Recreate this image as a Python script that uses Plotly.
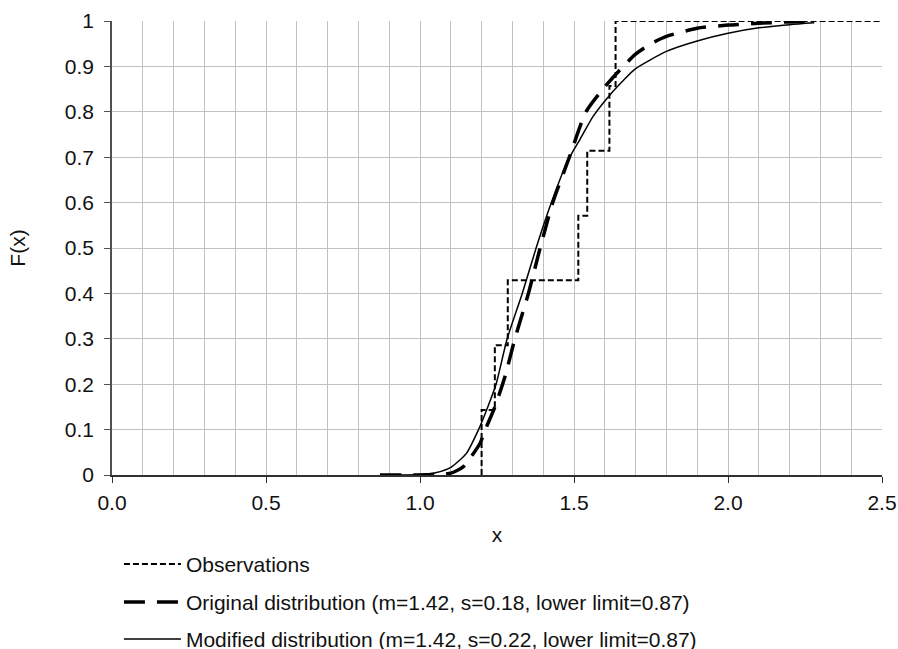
import plotly.graph_objects as go

# Observations (empirical CDF)
obs_x = [1.200, 1.243, 1.285, 1.514, 1.543, 1.615, 1.635]
obs_f = [0.143, 0.286, 0.429, 0.571, 0.714, 0.857, 1.000]
x_max = 2.5

# Original distribution (m=1.42, s=0.18, lower limit=0.87)
orig_x = [0.87, 1.00, 1.05, 1.10, 1.14, 1.195, 1.216, 1.243, 1.276, 1.308, 1.352, 1.39,
          1.431, 1.485, 1.539, 1.60, 1.65, 1.70, 1.75, 1.80, 1.90, 2.00, 2.10, 2.20, 2.28]
orig_f = [0.0, 0.0, 0.001, 0.004, 0.018, 0.07, 0.106, 0.15, 0.217, 0.30, 0.40, 0.50,
          0.60, 0.70, 0.80, 0.855, 0.893, 0.927, 0.950, 0.966, 0.984, 0.991, 0.995, 0.998, 0.999]

# Modified distribution (m=1.42, s=0.22, lower limit=0.87)
mod_x = [0.87, 0.95, 1.00, 1.05, 1.10, 1.15, 1.19, 1.22, 1.247, 1.283, 1.332, 1.377,
         1.424, 1.478, 1.52, 1.562, 1.62, 1.66, 1.70, 1.80, 1.90, 2.00, 2.10, 2.20, 2.28]
mod_f = [0.0, 0.0, 0.001, 0.005, 0.017, 0.047, 0.10, 0.15, 0.20, 0.30, 0.40, 0.50,
         0.595, 0.69, 0.74, 0.79, 0.84, 0.869, 0.895, 0.933, 0.956, 0.973, 0.985, 0.992, 0.996]

# build step path from observations
step_x = [obs_x[0]] + obs_x + [x_max]
step_y = [0.0] + obs_f + [obs_f[-1]]

FONT = "Liberation Sans, Arial, sans-serif"
LEG_FONT = 21

fig = go.Figure()
fig.add_trace(go.Scatter(
    x=step_x, y=step_y, mode="lines", line_shape="hv",
    line=dict(color="black", width=2, dash="6px,3px"),
    name="Observations", legend="legend"))
fig.add_trace(go.Scatter(
    x=orig_x, y=orig_f, mode="lines", line_shape="spline",
    line=dict(color="black", width=3.5, dash="21px,12px", smoothing=0.6),
    name="Original distribution (m=1.42, s=0.18, lower limit=0.87)", legend="legend2"))
fig.add_trace(go.Scatter(
    x=mod_x, y=mod_f, mode="lines", line_shape="spline",
    line=dict(color="black", width=1.5, smoothing=0.6),
    name="Modified distribution (m=1.42, s=0.22, lower limit=0.87)", legend="legend3"))

leg_common = dict(xanchor="left", yanchor="top", orientation="v",
                  font=dict(size=LEG_FONT, family=FONT, color="#111"),
                  itemwidth=57, bgcolor="rgba(0,0,0,0)", x=0.009)

fig.update_layout(
    width=898, height=649,
    margin=dict(l=112, r=16, t=21, b=174, autoexpand=False),
    paper_bgcolor="white", plot_bgcolor="white",
    font=dict(family=FONT, size=21, color="#111"),
    showlegend=True,
    legend=dict(y=-0.1515, **leg_common),
    legend2=dict(y=-0.2352, **leg_common),
    legend3=dict(y=-0.3167, **leg_common),
    xaxis=dict(
        range=[0, 2.5], dtick=0.5, tick0=0, tickformat=".1f",
        showgrid=True, gridcolor="#c0c0c0", gridwidth=1,
        minor=dict(dtick=0.1, showgrid=True, gridcolor="#c0c0c0", gridwidth=1),
        showline=True, linecolor="#303030", linewidth=1.5,
        ticks="outside", ticklen=6, tickcolor="#303030",
        ticklabelstandoff=2,
        zeroline=False,
        title=dict(text="x", standoff=14, font=dict(size=21)),
    ),
    yaxis=dict(
        range=[0, 1], dtick=0.1, tick0=0,
        showgrid=True, gridcolor="#c0c0c0", gridwidth=1,
        showline=True, linecolor="#505050", linewidth=1.5,
        ticks="outside", ticklen=6, tickcolor="#505050",
        ticklabelstandoff=6,
        zeroline=False,
        title=dict(text="F(x)", standoff=33, font=dict(size=21)),
    ),
)

# remove the browser's default 8px page margin so the figure fills the window
fig.write_html(
    "out.html",
    config={"displayModeBar": False},
    post_script="document.body.style.margin='0';document.body.style.overflow='hidden';",
)
